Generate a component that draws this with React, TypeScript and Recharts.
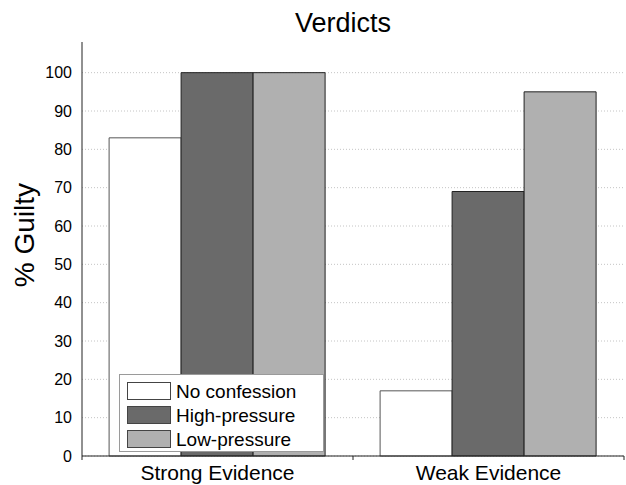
import React from 'react';
import { BarChart, Bar, XAxis, YAxis, CartesianGrid, Legend } from 'recharts';

const CATEGORIES = ['Strong Evidence', 'Weak Evidence'];
const NO_CONFESSION = [83, 17];
const HIGH_PRESSURE = [100, 69];
const LOW_PRESSURE = [100, 95];
const Y_TICKS = [0, 10, 20, 30, 40, 50, 60, 70, 80, 90, 100];
const Y_DOMAIN: [number, number] = [0, 108];

const SERIES = [
  { key: 'none', name: 'No confession', fill: '#ffffff', stroke: '#555555' },
  { key: 'high', name: 'High-pressure', fill: '#6a6a6a', stroke: '#222222' },
  { key: 'low', name: 'Low-pressure', fill: '#b0b0b0', stroke: '#222222' },
];

const data = CATEGORIES.map((c, i) => ({
  name: c,
  none: NO_CONFESSION[i],
  high: HIGH_PRESSURE[i],
  low: LOW_PRESSURE[i],
}));

const W = 626;
const H = 485;
const MARGIN = { top: 42, right: 2, left: 0, bottom: 0 };
const Y_W = 82;
const X_H = 29;
const PLOT_W = W - MARGIN.left - MARGIN.right - Y_W;
const FONT = '"Liberation Sans", Arial, sans-serif';

const gridGen = (props: any) => {
  const yAxis = props?.yAxis;
  if (yAxis && typeof yAxis.scale === 'function') {
    return Y_TICKS.map((t) => yAxis.scale(t));
  }
  const off = props?.offset;
  const top = off?.top ?? MARGIN.top;
  const h = off?.height ?? H - MARGIN.top - X_H;
  return Y_TICKS.map((t) => top + h * (1 - (t - Y_DOMAIN[0]) / (Y_DOMAIN[1] - Y_DOMAIN[0])));
};

const XTick = (props: any) => {
  const { x, y, payload, index } = props;
  const half = PLOT_W / CATEGORIES.length / 2;
  const axisY = y - 9;
  return (
    <g>
      <line x1={x - half} x2={x - half} y1={axisY} y2={axisY + 4} stroke="#222" />
      {index === CATEGORIES.length - 1 && (
        <line x1={x + half} x2={x + half} y1={axisY} y2={axisY + 4} stroke="#222" />
      )}
      <text x={x} y={y} dy="0.71em" textAnchor="middle" fontSize={21} fill="#000" fontFamily={FONT}>
        {payload.value}
      </text>
    </g>
  );
};

const LegendBox = () => (
  <div
    style={{
      border: '1px solid #9a9a9a',
      background: '#fff',
      width: 203,
      height: 72,
      boxSizing: 'content-box',
      paddingTop: 4,
      fontFamily: FONT,
    }}
  >
    {SERIES.map((s) => (
      <div key={s.key} style={{ display: 'flex', alignItems: 'center', height: 24, paddingLeft: 7 }}>
        <div
          style={{
            width: 42,
            height: 16,
            background: s.fill,
            border: '1px solid #444',
            marginRight: 5,
            flexShrink: 0,
          }}
        />
        <span style={{ fontSize: 19, color: '#000', lineHeight: '19px', whiteSpace: 'nowrap' }}>{s.name}</span>
      </div>
    ))}
  </div>
);

export default function App() {
  return (
    <div style={{ position: 'absolute', left: 0, top: 0, width: W, height: H, background: '#fff' }}>
      <BarChart
        width={W}
        height={H}
        data={data}
        margin={MARGIN}
        barCategoryGap="10%"
        barGap={0}
        style={{ fontFamily: FONT }}
      >
        <CartesianGrid
          vertical={false}
          stroke="#c4c4c4"
          strokeDasharray="1 2"
          horizontalCoordinatesGenerator={gridGen}
        />
        <XAxis
          dataKey="name"
          height={X_H}
          tickSize={4}
          tickMargin={5}
          tickLine={false}
          axisLine={{ stroke: '#222' }}
          tick={<XTick />}
          interval={0}
        />
        <YAxis
          width={Y_W}
          domain={Y_DOMAIN}
          ticks={Y_TICKS}
          interval={0}
          tickSize={4}
          tickMargin={6}
          tickLine={false}
          axisLine={{ stroke: '#222' }}
          tick={{ fontSize: 16, fill: '#000', fontFamily: FONT }}
        />
        <Legend
          layout="vertical"
          align="center"
          verticalAlign="middle"
          content={<LegendBox />}
          wrapperStyle={{ left: 119, top: 374, width: 205, height: 76 }}
        />
        {SERIES.map((s) => (
          <Bar
            key={s.key}
            dataKey={s.key}
            name={s.name}
            fill={s.fill}
            stroke={s.stroke}
            strokeWidth={1}
            isAnimationActive={false}
          />
        ))}
      </BarChart>
      <svg
        width={W}
        height={H}
        style={{ position: 'absolute', left: 0, top: 0, pointerEvents: 'none' }}
      >
        <text x={343} y={32} textAnchor="middle" fontSize={27} fontFamily={FONT} fill="#000">
          Verdicts
        </text>
        <text
          x={0}
          y={0}
          transform="translate(34, 235) rotate(-90)"
          textAnchor="middle"
          fontSize={28}
          fontFamily={FONT}
          fill="#000"
        >
          % Guilty
        </text>
      </svg>
    </div>
  );
}
